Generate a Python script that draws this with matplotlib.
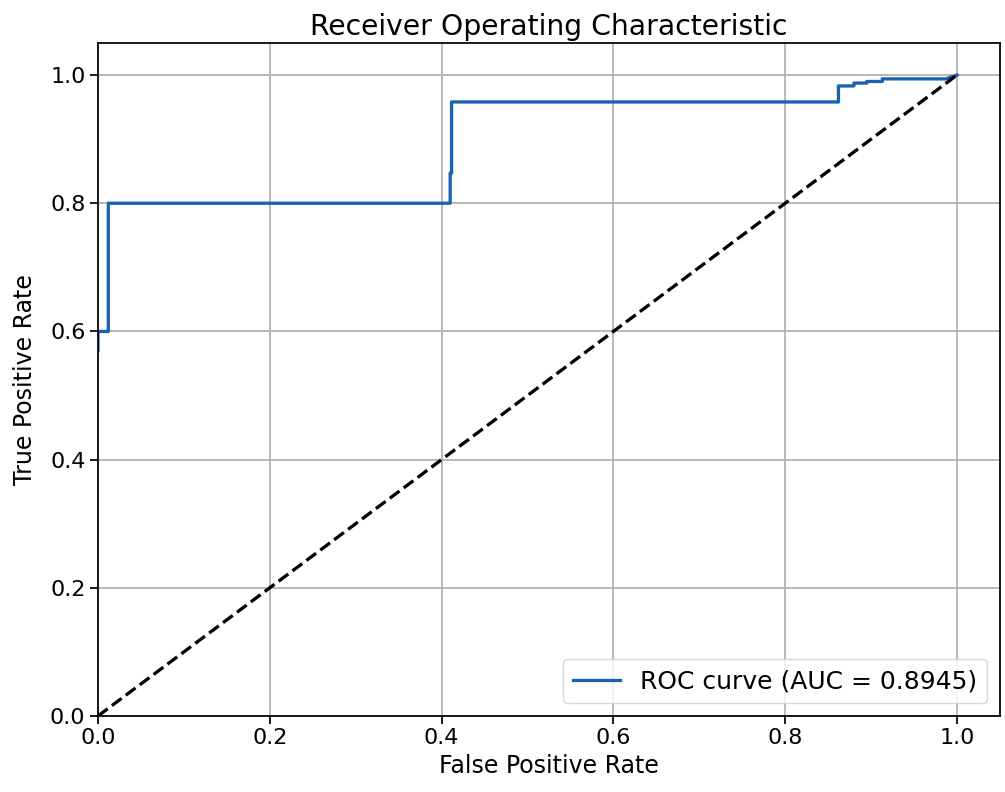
import numpy as np
import matplotlib
matplotlib.use("Agg")
import matplotlib.pyplot as plt

# ROC points
fpr = [0.0, 0.0, 0.012, 0.012, 0.41, 0.41, 0.4116, 0.4116,
       0.862, 0.862, 0.88, 0.88, 0.895, 0.895, 0.913, 0.913, 0.987, 1.0]
tpr = [0.57, 0.60, 0.60, 0.80, 0.80, 0.847, 0.847, 0.958,
       0.958, 0.983, 0.983, 0.9875, 0.9875, 0.99, 0.99, 0.994, 0.994, 1.0]
auc_val = 0.8945

s = 1.57  # scale factor
fig = plt.figure(figsize=(10.05, 7.92), dpi=100)
ax = fig.add_axes([0.0975, 0.096, 0.8975, 0.8497])

ax.plot(fpr, tpr, color='#1862b0', lw=1.5 * s, label='ROC curve (AUC = %0.4f)' % auc_val)
ax.plot([0, 1], [0, 1], 'k--', lw=1.5 * s)

ax.set_xlim(0.0, 1.05)
ax.set_ylim(0.0, 1.05)
ax.set_xlabel('False Positive Rate', fontsize=17)
ax.set_ylabel('True Positive Rate', fontsize=17, labelpad=9)
ax.set_title('Receiver Operating Characteristic', fontsize=20.3)
ax.tick_params(labelsize=16, width=0.8 * s, length=3.5 * s)
for sp in ax.spines.values():
    sp.set_linewidth(0.8 * s)
ax.grid(True, lw=0.8 * s, color='#b0b0b0')
ax.legend(loc='lower right', fontsize=18, handlelength=1.9)

fig.savefig('out.png', dpi=100)
